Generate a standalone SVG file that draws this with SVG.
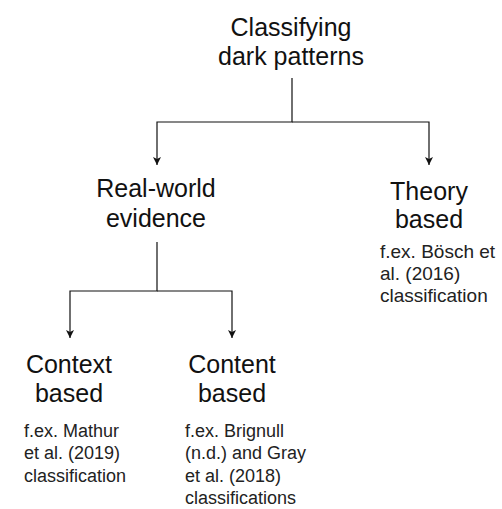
<svg xmlns="http://www.w3.org/2000/svg" width="502" height="509" viewBox="0 0 502 509">
<style>
.t{font-family:"Liberation Sans",Arial,Helvetica,sans-serif;font-size:25px;fill:#111;text-anchor:middle}
.s{font-family:"Liberation Sans",Arial,Helvetica,sans-serif;font-size:18px;fill:#222}
.s19{font-size:19px}
.c{fill:none;stroke:#111;stroke-width:1.2}
</style>
<defs>
<marker id="ah" viewBox="0 0 10 10" refX="10" refY="5" markerWidth="8" markerHeight="8" markerUnits="userSpaceOnUse" orient="auto">
<path d="M0,0 L10,5 L0,10 L2.5,5 z" fill="#111"/>
</marker>
</defs>
<rect width="502" height="509" fill="#fff"/>
<g id="connectors">
<path class="c" d="M292,78 V122 H157 V165" marker-end="url(#ah)"/>
<path class="c" d="M292,122 H429 V165" marker-end="url(#ah)"/>
<path class="c" d="M157,242 V291 H70 V338" marker-end="url(#ah)"/>
<path class="c" d="M157,291 H232 V338" marker-end="url(#ah)"/>
</g>
<g id="root"><text class="t" x="291" y="36">Classifying</text><text class="t" x="291" y="65">dark patterns</text></g>
<g id="realworld"><text class="t" x="156" y="197">Real-world</text><text class="t" x="156" y="227">evidence</text></g>
<g id="theory"><text class="t" x="429" y="200">Theory</text><text class="t" x="429" y="228">based</text></g>
<g id="theory-note"><text class="s s19" x="380" y="258">f.ex. Bösch et</text><text class="s s19" x="380" y="280">al. (2016)</text><text class="s s19" x="380" y="302">classification</text></g>
<g id="context"><text class="t" x="69" y="373">Context</text><text class="t" x="69" y="402">based</text></g>
<g id="context-note"><text class="s" x="24" y="437">f.ex. Mathur</text><text class="s" x="24" y="459">et al. (2019)</text><text class="s" x="24" y="482">classification</text></g>
<g id="content"><text class="t" x="232" y="373">Content</text><text class="t" x="232" y="402">based</text></g>
<g id="content-note"><text class="s" x="185" y="437">f.ex. Brignull</text><text class="s" x="185" y="459">(n.d.) and Gray</text><text class="s" x="185" y="482">et al. (2018)</text><text class="s" x="185" y="504">classifications</text></g>
</svg>
